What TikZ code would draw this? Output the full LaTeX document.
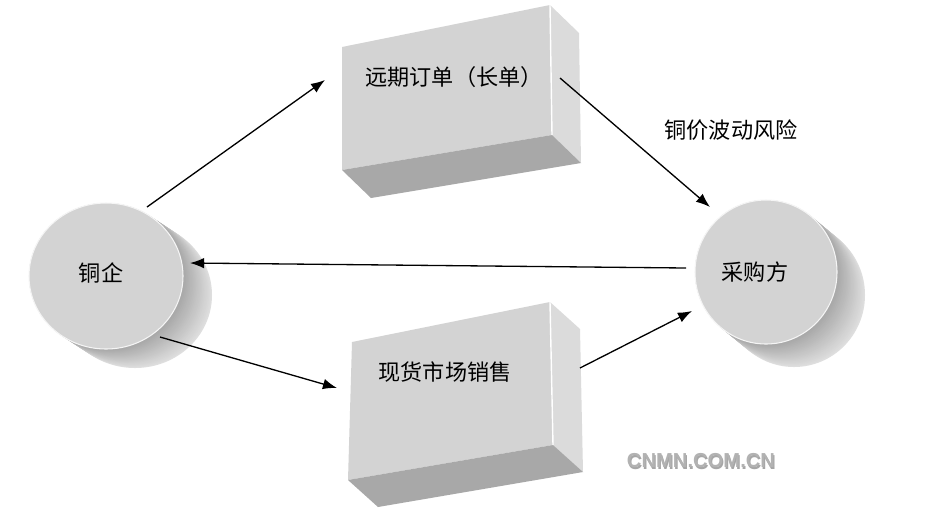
\documentclass[tikz,border=0pt]{standalone}
\usepackage{fontspec}
\setmainfont{Noto Sans CJK SC}
\newfontfamily\marksans{Liberation Sans}
\usetikzlibrary{arrows.meta,calc,positioning}
\definecolor{FaceGray}{RGB}{211,211,211}
\definecolor{SideGray}{RGB}{219,219,219}
\definecolor{BaseGray}{RGB}{168,168,168}
\definecolor{MarkGray}{RGB}{178,178,178}
% box: front corners (tl,tr,br,bl), then depth shift
\newcommand{\slab}[5]{%
  \fill[FaceGray] #1 -- #2 -- #3 -- #4 -- cycle;
  \fill[SideGray] #2 -- ($#2+#5$) -- ($#3+#5$) -- #3 -- cycle;
  \fill[BaseGray] #4 -- #3 -- ($#3+#5$) -- ($#4+#5$) -- cycle;
  \draw[white,line width=0.8pt] #2 -- #3;
}
% drum: centre, x radius, y radius, depth shift
\newcommand{\drum}[4]{%
  \foreach \k in {0,...,20}{
    \pgfmathsetmacro\f{(20-\k)/20}
    \pgfmathsetmacro\m{26+2.2*\k}
    \fill[gray!\m] ($#1+\f*#4$) ellipse[x radius=#2,y radius=#3];
  }
  \fill[FaceGray] #1 ellipse[x radius=#2,y radius=#3];
  \draw[white!92!gray,line width=0.6pt] #1 ellipse[x radius=#2,y radius=#3];
}

\begin{document}
\begin{tikzpicture}[x=0.02cm,y=-0.02cm,>={Latex[length=8pt,width=6pt]},
    lbl/.style={font=\fontsize{12.6}{15}\selectfont},
    flow/.style={->,line width=0.75pt}]
  \useasboundingbox (0,0) rectangle (933,512);
  \fill[white] (0,0) rectangle (933,512);

  \slab{(342,47)}{(550,5)}{(552,135)}{(342,170)}{(29,28)}
  \slab{(352,342)}{(550,302)}{(553,445)}{(348,480)}{(30,27)}
  \drum{(106,276)}{77}{73}{(29,19)}
  \drum{(766,272)}{71}{72}{(28,23)}

  \node[lbl] (fwd) at (454,77) {远期订单（长单）};
  \node[lbl] (spot) at (445,372) {现货市场销售};
  \node[lbl] (qi) at (101,273) {铜企};
  \node[lbl] (buyer) at (755,272) {采购方};
  \node[lbl] (risk) at (731,130) {铜价波动风险};

  \coordinate (qi-up) at (147,207);
  \coordinate (fwd-in) at (325,80);
  \coordinate (fwd-out) at (560,78);
  \coordinate (buyer-up) at (710,207);
  \coordinate (buyer-left) at (686,268);
  \coordinate (qi-right) at (190,263);
  \coordinate (qi-down) at (160,337);
  \coordinate (spot-in) at (337,388);
  \coordinate (spot-out) at (580,368);
  \coordinate (buyer-down) at (692,311);

  \draw[flow] (qi-up) -- (fwd-in);
  \draw[flow] (fwd-out) -- (buyer-up);
  \draw[flow] (buyer-left) -- (qi-right);
  \draw[flow] (qi-down) -- (spot-in);
  \draw[flow] (spot-out) -- (buyer-down);

  \node[font=\marksans\bfseries\fontsize{11.5}{14}\selectfont,gray!70] at (702,462.5) {CNMN.COM.CN};
  \node[font=\marksans\bfseries\fontsize{11.5}{14}\selectfont,MarkGray] (mark) at (701,461) {CNMN.COM.CN};
\end{tikzpicture}
\end{document}
